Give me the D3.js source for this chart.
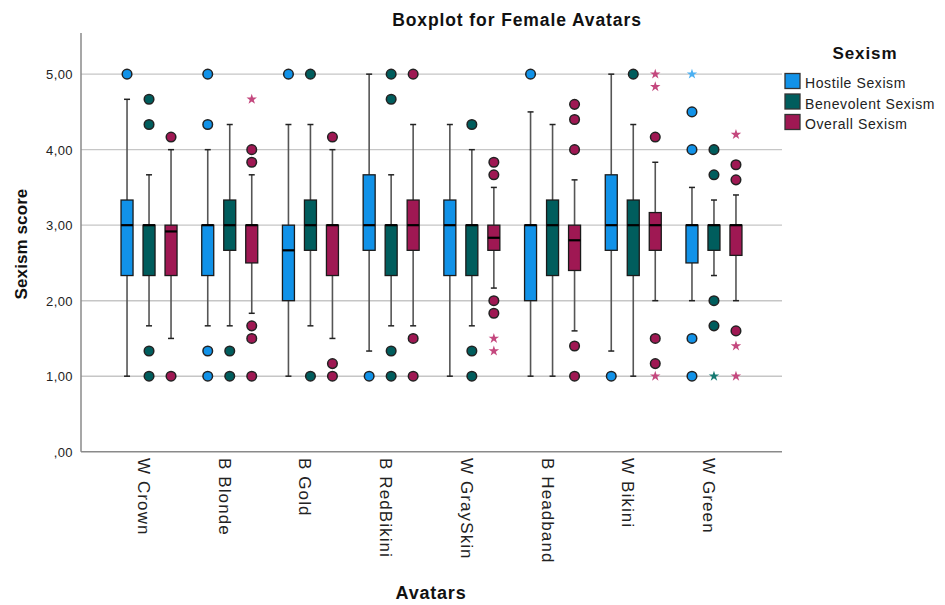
<!DOCTYPE html>
<html><head><meta charset="utf-8">
<script src="https://cdn.jsdelivr.net/npm/d3@7/dist/d3.min.js"></script>
<style>body{margin:0;background:#fff}svg{display:block;font-family:Arial,"Liberation Sans",sans-serif}</style>
</head><body><svg id="c" width="945" height="605"></svg>
<script>
const categories = ["W Crown","B Blonde","B Gold","B RedBikini","W GraySkin","B Headband","W Bikini","W Green"];
const seriesNames = ["Hostile Sexism","Benevolent Sexism","Overall Sexism"];
const yTicks = [0,1,2,3,4,5];
// [lower whisker, Q1, median, Q3, upper whisker]
const hostileStats = [[1,2.333,3,3.333,4.667],[1.667,2.333,3,3,4],[1,2,2.667,3,4.333],[1.333,2.667,3,3.667,5],[1,2.333,3,3.333,4.333],[1,2,3,3,4.5],[1.333,2.667,3,3.667,5],[2,2.5,3,3,3.5]];
const hostileOutliers = [[5],[5,4.333,1.333,1],[5],[1],[],[5],[1],[4.5,4,1.5,1]];
const hostileExtremes = [[],[],[],[],[],[],[],[5]];
const benevolentStats = [[1.667,2.333,3,3,3.667],[1.667,2.667,3,3.333,4.333],[1.667,2.667,3,3.333,4.333],[1.667,2.333,3,3,3.667],[1.667,2.333,3,3,4],[1,2.333,3,3.333,4.333],[1,2.333,3,3.333,4.333],[2.333,2.667,3,3,3.333]];
const benevolentOutliers = [[4.667,4.333,1.333,1],[1.333,1],[5,1],[5,4.667,1.333,1],[4.333,1.333,1],[],[5],[4,3.667,2,1.667]];
const benevolentExtremes = [[],[],[],[],[],[],[],[1]];
const overallStats = [[1.5,2.333,2.917,3,4],[1.833,2.5,3,3,3.667],[1.5,2.333,3,3,4],[1.667,2.667,3,3.333,4.333],[2.167,2.667,2.833,3,3.5],[1.6,2.4,2.8,3,3.6],[2,2.667,3,3.167,3.833],[2,2.6,3,3,3.4]];
const overallOutliers = [[4.167,1],[4,3.833,1.667,1.5,1],[4.167,1.167,1],[5,1.5,1],[3.833,3.667,2,1.833],[4.6,4.4,4,1.4,1],[4.167,1.5,1.167],[3.8,3.6,1.6]];
const overallExtremes = [[],[4.667],[],[],[1.5,1.333],[],[5,4.833,1],[4.2,1.4,1]];

const colors = ["#1192e8","#005d5d","#9f1853"];
const starColors = ["#4cb0f2","#167a72","#c4487e"];

const series = [
  {name:seriesNames[0], stats:hostileStats, out:hostileOutliers, ext:hostileExtremes},
  {name:seriesNames[1], stats:benevolentStats, out:benevolentOutliers, ext:benevolentExtremes},
  {name:seriesNames[2], stats:overallStats, out:overallOutliers, ext:overallExtremes}
];

const svg = d3.select("#c");
const L=81, R=782, T=33, B=451.7;
const x = d3.scaleBand().domain(categories).range([L,R]).paddingInner(0).paddingOuter(0.343);
const xs = d3.scalePoint().domain(seriesNames).range([-22,22]);
const y = d3.scaleLinear().domain([0,5.545]).range([B,T]);

// gridlines
svg.append("g").selectAll("line").data(yTicks.filter(d=>d>0)).join("line")
  .attr("x1",L).attr("x2",R).attr("y1",d=>y(d)).attr("y2",d=>y(d))
  .attr("stroke","#c6c6c6").attr("stroke-width",1.4);

// axes
const yAxis = d3.axisLeft(y).tickValues(yTicks).tickSize(0).tickPadding(8)
  .tickFormat(d=>d===0?",00":d3.format(".2f")(d).replace(".",","));
const gy = svg.append("g").attr("transform",`translate(${L},0)`).call(yAxis);
gy.select(".domain").attr("stroke","#8a8a8a").attr("stroke-width",1.5).attr("d",`M0,${T}V${B}`);
gy.selectAll("text").attr("font-size",13).attr("fill","#222").attr("letter-spacing",0.4).attr("dy","0.35em");

const xAxis = d3.axisBottom(x).tickSize(0).tickFormat("");
const gx = svg.append("g").attr("transform",`translate(0,${B})`).call(xAxis);
gx.select(".domain").attr("stroke","#8a8a8a").attr("stroke-width",1.5).attr("d",`M${L},0H${R}`);

// category labels (rotated)
svg.append("g").selectAll("text").data(categories).join("text")
  .attr("transform",d=>`translate(${x(d)+x.bandwidth()/2-11},458) rotate(90)`)
  .attr("font-size",17).attr("letter-spacing",1.1).attr("fill","#222").text(d=>d);

// boxes
const bw=12, cap=5;
series.forEach((s,si)=>{
  const g = svg.append("g");
  categories.forEach((c,ci)=>{
    const cx = x(c)+x.bandwidth()/2+xs(s.name);
    const [lo,q1,md,q3,hi] = s.stats[ci];
    g.append("line").attr("x1",cx).attr("x2",cx).attr("y1",y(hi)).attr("y2",y(q3)).attr("stroke","#555").attr("stroke-width",1.6);
    g.append("line").attr("x1",cx).attr("x2",cx).attr("y1",y(q1)).attr("y2",y(lo)).attr("stroke","#555").attr("stroke-width",1.6);
    g.append("line").attr("x1",cx-cap/2-0.5).attr("x2",cx+cap/2+0.5).attr("y1",y(hi)).attr("y2",y(hi)).attr("stroke","#222").attr("stroke-width",1.5);
    g.append("line").attr("x1",cx-cap/2-0.5).attr("x2",cx+cap/2+0.5).attr("y1",y(lo)).attr("y2",y(lo)).attr("stroke","#222").attr("stroke-width",1.5);
    g.append("rect").attr("x",cx-bw/2).attr("width",bw).attr("y",y(q3)).attr("height",y(q1)-y(q3))
      .attr("fill",colors[si]).attr("stroke","#1a1a1a").attr("stroke-width",1.3);
    g.append("line").attr("x1",cx-bw/2).attr("x2",cx+bw/2).attr("y1",y(md)).attr("y2",y(md)).attr("stroke","#000").attr("stroke-width",2.2);
    s.out[ci].forEach(v=>{
      g.append("circle").attr("cx",cx).attr("cy",y(v)).attr("r",4.8)
        .attr("fill",colors[si]).attr("stroke","#222").attr("stroke-width",1.5);
    });
    s.ext[ci].forEach(v=>{
      g.append("path").attr("d",d3.symbol(d3.symbolStar,34)()).attr("transform",`translate(${cx},${y(v)})`)
        .attr("fill",starColors[si]);
    });
  });
});

// titles
svg.append("text").attr("x",517).attr("y",26).attr("text-anchor","middle").attr("font-size",17.5).attr("font-weight","bold").attr("letter-spacing",0.9).attr("fill","#111").text("Boxplot for Female Avatars");
svg.append("text").attr("x",431).attr("y",599).attr("text-anchor","middle").attr("font-size",18).attr("font-weight","bold").attr("letter-spacing",0.8).attr("fill","#111").text("Avatars");
svg.append("text").attr("transform","translate(27,244) rotate(-90)").attr("text-anchor","middle").attr("font-size",17).attr("font-weight","bold").attr("letter-spacing",0.1).attr("fill","#111").text("Sexism score");

// legend
svg.append("text").attr("x",865).attr("y",59).attr("text-anchor","middle").attr("font-size",17).attr("font-weight","bold").attr("letter-spacing",0.9).attr("fill","#111").text("Sexism");
const lg = svg.append("g").selectAll("g").data(seriesNames).join("g").attr("transform",(d,i)=>`translate(785,${73.5+i*20.5})`);
lg.append("rect").attr("width",15).attr("height",15).attr("fill",(d,i)=>colors[i]).attr("stroke","#333").attr("stroke-width",1.3);
lg.append("text").attr("x",20).attr("y",14.5).attr("font-size",14).attr("letter-spacing",0.6).attr("fill","#222").text(d=>d);
</script></body></html>
